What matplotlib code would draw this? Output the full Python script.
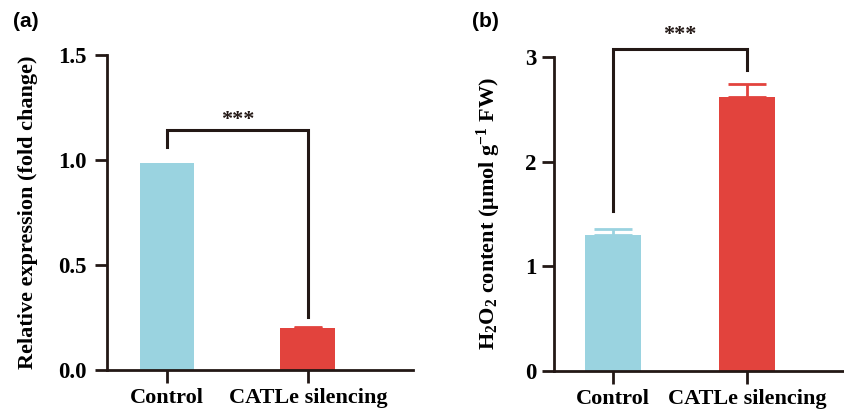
import matplotlib
matplotlib.use("Agg")
import matplotlib.pyplot as plt

groups = ["Control", "CATLe silencing"]
expr_vals = [0.985, 0.20]
expr_err = [0.0, 0.005]
h2o2_vals = [1.30, 2.62]
h2o2_err = [0.06, 0.12]
colors = ["#9AD3E0", "#E2433D"]

plt.rcParams['font.family'] = ['Liberation Serif', 'DejaVu Serif']
plt.rcParams['font.weight'] = 'bold'
plt.rcParams['mathtext.default'] = 'regular'

fig = plt.figure(figsize=(8.44, 4.13), dpi=100)


def style_axes(ax, ypad):
    for s in ['top', 'right']:
        ax.spines[s].set_visible(False)
    for s in ['left', 'bottom']:
        ax.spines[s].set_linewidth(2.0)
        ax.spines[s].set_color('#231815')
    ax.tick_params(axis='both', width=2.0, length=9, color='#231815',
                   labelsize=16)
    ax.tick_params(axis='y', pad=ypad, labelsize=16.5)
    ax.tick_params(axis='x', pad=4)
    for lab in ax.get_xticklabels() + ax.get_yticklabels():
        lab.set_fontweight('bold')


def bracket(ax, x1, x2, y, y1, y2, ystar):
    ax.plot([x1, x1, x2, x2], [y1, y, y, y2], color='#231815', lw=2.2,
            clip_on=False, solid_joinstyle='miter')
    ax.text((x1 + x2) / 2, ystar, "***", ha='center', va='center',
            fontsize=16, color='#231815')


# panel (a)
ax1 = fig.add_axes([0.1268, 0.104, 0.3622, 0.763])
ax1.bar(range(2), expr_vals, width=0.39, color=colors)
for i in range(2):
    if expr_err[i] > 0:
        ax1.errorbar(i, expr_vals[i], yerr=[[0], [expr_err[i]]], color=colors[i],
                     capsize=10, elinewidth=2, capthick=2)
ax1.set_xlim(-0.426, 1.745)
ax1.set_ylim(0, 1.5)
ax1.set_yticks([0, 0.5, 1.0, 1.5])
ax1.set_yticklabels(["0.0", "0.5", "1.0", "1.5"])
ax1.set_xticks(range(2))
ax1.set_xticklabels(groups)
ax1.set_ylabel("Relative expression (fold change)", fontsize=16, fontweight='bold', labelpad=14)
style_axes(ax1, 6)
bracket(ax1, 0, 1, 1.143, 1.062, 0.252, 1.19)
fig.text(0.015, 0.947, "(a)", fontsize=15, fontweight='bold', family='Liberation Sans',
         va='center', ha='left')

# panel (b)
ax2 = fig.add_axes([0.6564, 0.1017, 0.3424, 0.7603])
ax2.bar(range(2), h2o2_vals, width=0.418, color=colors)
for i in range(2):
    ax2.errorbar(i, h2o2_vals[i], yerr=[[0], [h2o2_err[i]]], color=colors[i],
                 capsize=14, elinewidth=2, capthick=2)
ax2.set_xlim(-0.44, 1.716)
ax2.set_ylim(0, 3)
ax2.set_yticks([0, 1, 2, 3])
ax2.set_xticks(range(2))
ax2.set_xticklabels(groups)
ax2.set_ylabel("H$_2$O$_2$ content (μmol g$^{-1}$ FW)", fontsize=16, fontweight='bold', labelpad=16)
style_axes(ax2, 3.5)
bracket(ax2, 0, 1, 3.075, 1.53, 2.88, 3.21)
fig.text(0.559, 0.947, "(b)", fontsize=15, fontweight='bold', family='Liberation Sans',
         va='center', ha='left')

fig.savefig("out.png", dpi=100)
